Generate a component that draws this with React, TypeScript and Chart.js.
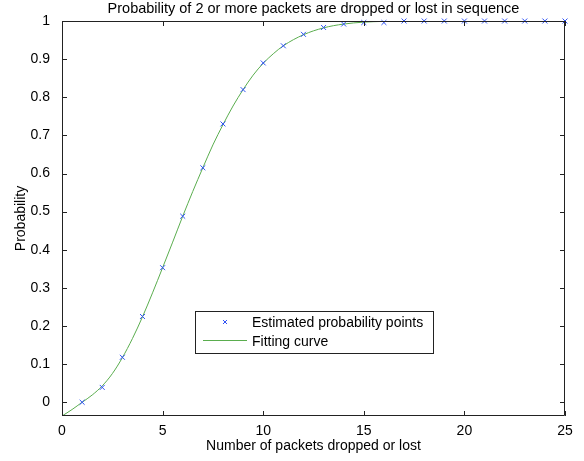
import React, { useEffect, useRef } from "react";
import { Chart, registerables } from "chart.js";

Chart.register(...registerables);

const chartTitle = "Probability of 2 or more packets are dropped or lost in sequence";
const xAxisTitle = "Number of packets dropped or lost";
const yAxisTitle = "Probability";
const legendLabels = ["Estimated probability points", "Fitting curve"];

const packetCounts = [1, 2, 3, 4, 5, 6, 7, 8, 9, 10, 11, 12, 13, 14, 15, 16, 17, 18, 19, 20, 21, 22, 23, 24, 25];
const estimatedProb = [0.0, 0.039, 0.118, 0.225, 0.353, 0.488, 0.615, 0.73, 0.82, 0.89, 0.935, 0.965, 0.983, 0.992, 0.996, 0.996, 1, 1, 1, 1, 1, 1, 1, 1, 1];

const curveX = [0, 0.5, 1, 1.5, 2, 2.5, 3, 3.5, 4, 4.5, 5, 5.5, 6, 6.5, 7, 7.5, 8, 8.5, 9, 9.5, 10, 10.5, 11, 12, 13, 14, 15, 16, 17, 18, 20, 25];
const curveY = [-0.036, -0.019, 0.0, 0.019, 0.043, 0.075, 0.117, 0.167, 0.224, 0.287, 0.353, 0.42, 0.488, 0.553, 0.615, 0.675, 0.728, 0.777, 0.82, 0.858, 0.889, 0.914, 0.935, 0.964, 0.982, 0.992, 0.997, 0.999, 1, 1, 1, 1];

const xTicks = [0, 5, 10, 15, 20, 25];
const yTicks = [0, 0.1, 0.2, 0.3, 0.4, 0.5, 0.6, 0.7, 0.8, 0.9, 1];
const yMin = -0.036;
const yMax = 1;

const FONT = "'Liberation Sans', Arial, Helvetica, sans-serif";
const BLUE = "#2f52f5";
const GREEN = "#5aad4e";
const AXIS = "#222222";

const framePlugin = {
  id: "frame",
  afterDatasetsDraw(chart: any) {
    const { ctx, chartArea } = chart;
    const { left, right, top, bottom } = chartArea;
    const xs = chart.scales.x;
    const ys = chart.scales.y;
    ctx.save();
    ctx.strokeStyle = AXIS;
    ctx.lineWidth = 1;
    ctx.beginPath();
    ctx.rect(left + 0.5, top + 0.5, right - left - 1, bottom - top - 1);
    const tl = 5;
    xTicks.forEach((v) => {
      const px = Math.round(xs.getPixelForValue(v)) + 0.5;
      ctx.moveTo(px, bottom);
      ctx.lineTo(px, bottom - tl);
      ctx.moveTo(px, top);
      ctx.lineTo(px, top + tl);
    });
    yTicks.forEach((v) => {
      const py = Math.round(ys.getPixelForValue(v)) + 0.5;
      ctx.moveTo(left, py);
      ctx.lineTo(left + tl, py);
      ctx.moveTo(right, py);
      ctx.lineTo(right - tl, py);
    });
    ctx.stroke();

    // title
    ctx.fillStyle = "#000";
    ctx.font = `14.5px ${FONT}`;
    ctx.textAlign = "center";
    ctx.textBaseline = "middle";
    ctx.fillText(chartTitle, (left + right) / 2, 9);

    // legend
    const lx = 195, ly = 311, lw = 238, lh = 42;
    ctx.fillStyle = "#fff";
    ctx.fillRect(lx, ly, lw, lh);
    ctx.strokeStyle = AXIS;
    ctx.strokeRect(lx + 0.5, ly + 0.5, lw, lh);
    // marker
    const mx = 225, my = 322, r = 2;
    ctx.strokeStyle = BLUE;
    ctx.beginPath();
    ctx.moveTo(mx - r, my - r);
    ctx.lineTo(mx + r, my + r);
    ctx.moveTo(mx + r, my - r);
    ctx.lineTo(mx - r, my + r);
    ctx.stroke();
    // line
    ctx.strokeStyle = GREEN;
    ctx.beginPath();
    ctx.moveTo(203, 340.5);
    ctx.lineTo(247, 340.5);
    ctx.stroke();
    ctx.fillStyle = "#000";
    ctx.font = `14px ${FONT}`;
    ctx.textAlign = "left";
    ctx.fillText(legendLabels[0], 252, 323);
    ctx.fillText(legendLabels[1], 252, 342);
    ctx.restore();
  },
};

export default function App() {
  const ref = useRef<HTMLCanvasElement>(null);
  useEffect(() => {
    if (!ref.current) return;
    const chart = new Chart(ref.current, {
      type: "scatter",
      data: {
        datasets: [
          {
            label: legendLabels[0],
            data: packetCounts.map((x, i) => ({ x, y: estimatedProb[i] })),
            showLine: false,
            pointStyle: "crossRot",
            pointRadius: 3.5,
            pointBorderColor: BLUE,
            pointBackgroundColor: BLUE,
            pointBorderWidth: 1,
            borderColor: BLUE,
            clip: false,
          } as any,
          {
            label: legendLabels[1],
            data: curveX.map((x, i) => ({ x, y: curveY[i] })),
            showLine: true,
            pointRadius: 0,
            borderColor: GREEN,
            borderWidth: 1,
            cubicInterpolationMode: "monotone",
            fill: false,
          } as any,
        ],
      },
      options: {
        animation: false,
        responsive: false,
        maintainAspectRatio: false,
        layout: { padding: { top: 21, right: 19, left: 0, bottom: 0 } },
        plugins: {
          legend: { display: false },
          title: { display: false },
          tooltip: { enabled: false },
        },
        scales: {
          x: {
            type: "linear",
            min: 0,
            max: 25,
            grid: { display: false, drawTicks: false },
            border: { display: false },
            afterBuildTicks: (scale: any) => {
              scale.ticks = xTicks.map((v) => ({ value: v }));
            },
            afterFit: (scale: any) => {
              scale.height = 45;
            },
            ticks: {
              color: "#000",
              font: { family: FONT, size: 14 },
              padding: 7,
              maxRotation: 0,
              autoSkip: false,
              callback: (v: any) => String(v),
            },
            title: {
              display: true,
              text: xAxisTitle,
              color: "#000",
              font: { family: FONT, size: 14 },
              padding: { top: 0, bottom: 6 },
            },
          },
          y: {
            type: "linear",
            min: yMin,
            max: yMax,
            grid: { display: false, drawTicks: false },
            border: { display: false },
            afterBuildTicks: (scale: any) => {
              scale.ticks = yTicks.map((v) => ({ value: v }));
            },
            afterFit: (scale: any) => {
              scale.width = 62;
            },
            ticks: {
              color: "#000",
              font: { family: FONT, size: 14 },
              padding: 12,
              autoSkip: false,
              callback: (v: any) => String(Math.round(v * 10) / 10),
            },
            title: {
              display: true,
              text: yAxisTitle,
              color: "#000",
              font: { family: FONT, size: 14 },
              padding: { top: 13, bottom: 0 },
            },
          },
        },
      } as any,
      plugins: [framePlugin],
    });
    return () => chart.destroy();
  }, []);
  return (
    <div style={{ position: "fixed", left: 0, top: 0, width: 584, height: 461, background: "#fff" }}>
      <canvas ref={ref} width={584} height={461} style={{ width: 584, height: 461, display: "block" }} />
    </div>
  );
}
